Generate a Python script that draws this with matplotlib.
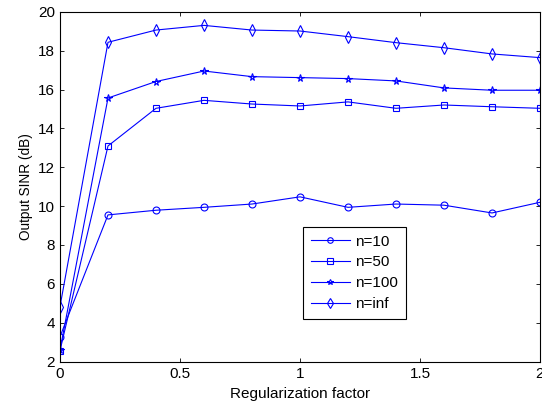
import matplotlib
matplotlib.use("Agg")
import matplotlib.pyplot as plt

plt.rcParams['font.family'] = ['Liberation Sans', 'DejaVu Sans']

x = [0, 0.2, 0.4, 0.6, 0.8, 1.0, 1.2, 1.4, 1.6, 1.8, 2.0]
n10 = [3.28, 9.55, 9.79, 9.94, 10.11, 10.48, 9.94, 10.11, 10.05, 9.65, 10.2]
n50 = [2.56, 13.1, 15.04, 15.45, 15.26, 15.16, 15.37, 15.04, 15.21, 15.12, 15.04]
n100 = [2.6, 15.57, 16.42, 16.96, 16.67, 16.62, 16.57, 16.45, 16.09, 15.97, 15.97]
ninf = [4.83, 18.44, 19.07, 19.31, 19.07, 19.02, 18.73, 18.42, 18.16, 17.84, 17.65]
labels = ['n=10', 'n=50', 'n=100', 'n=inf']

fig = plt.figure(figsize=(5.42, 4.05), dpi=100)
ax = fig.add_axes([0.1107, 0.1074, 0.8856, 0.863])
blue = (0, 0, 1)
kw = dict(color=blue, linewidth=0.8, markerfacecolor='none', markeredgecolor=blue, markeredgewidth=0.8)
ax.plot(x, n10, marker='o', markersize=5, label=labels[0], **kw)
ax.plot(x, n50, marker='s', markersize=4.8, label=labels[1], **kw)
ax.plot(x, n100, marker='*', markersize=5.5, label=labels[2], **kw)
ax.plot(x, ninf, marker='d', markersize=5.8, label=labels[3], **kw)

ax.set_xlim(0, 2)
ax.set_ylim(2, 20)
ax.set_xticks([0, 0.5, 1, 1.5, 2])
ax.set_xticklabels(['0', '0.5', '1', '1.5', '2'])
ax.set_yticks(range(2, 21, 2))
ax.tick_params(direction='in', length=3, width=0.6, top=True, right=True, labelsize=11)
ax.tick_params(axis='x', pad=4)
ax.tick_params(axis='y', pad=3.5)
for s in ax.spines.values():
    s.set_linewidth(0.8)
ax.set_xlabel('Regularization factor', fontsize=11, labelpad=4)
ax.set_ylabel('Output SINR (dB)', fontsize=9.8)
ax.yaxis.set_label_coords(-0.056, 0.5)

leg = ax.legend(loc='upper left', bbox_to_anchor=(0.506, 0.385), borderaxespad=0,
                fancybox=False, edgecolor='black', framealpha=1, fontsize=11,
                handlelength=2.6, handletextpad=0.33, labelspacing=0.45,
                borderpad=0.5, markerscale=0.8)
leg.get_frame().set_linewidth(0.8)

fig.savefig('out.png', dpi=100)
